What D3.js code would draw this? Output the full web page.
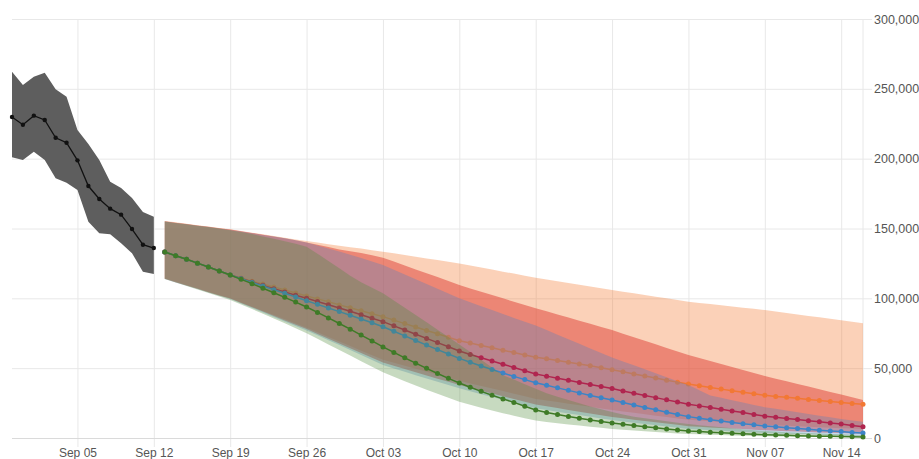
<!DOCTYPE html>
<html>
<head>
<meta charset="utf-8">
<script src="https://cdn.jsdelivr.net/npm/d3@7"></script>
<style>
  body { margin: 0; background: #fff; }
  svg { display: block; font-family: "Liberation Sans", Arial, sans-serif; }
</style>
</head>
<body>
<script>
// all values in thousands of cases
var histStart = "2020-08-30";
var histMean  = [229.8, 224.3, 230.8, 227.7, 215, 211.4, 198.8, 180.4, 171.1, 164.2, 159.9, 149.6, 138.4, 136];
var histUpper = [262.3, 252.8, 258.7, 261.6, 249.7, 244.4, 220.5, 210.5, 199, 183.5, 179, 171.9, 161.8, 158.5];
var histLower = [201, 199, 205, 199, 185.9, 182.8, 177.6, 154.9, 146.6, 145.9, 139.4, 132.3, 119.1, 117.5];

var fcStart = "2020-09-13";

var orangeMean = [133.2, 130.5, 128, 125.2, 122.4, 119.6, 116.7, 114.5, 112.3, 110.2, 108.1, 105.9, 103.8, 101.7,
  99.6, 97.5, 95.3, 93.2, 91.1, 89, 86.9, 84.4, 81.9, 79.5, 77, 74.6, 72.1, 69.7, 68, 66.3, 64.6, 62.9, 61.2, 59.5, 57.8,
  56.7, 55.5, 54.3, 53, 51.7, 50.3, 48.9, 47.4, 45.9, 44.4, 42.9, 41.4, 40, 38.6, 37.4, 36.2, 35, 33.8, 32.7, 31.6, 30.6,
  29.8, 29.1, 28.4, 27.6, 26.9, 26.1, 25.4, 24.7, 24.1];
var orangeUpper = [155.4, 154.4, 153.4, 152.4, 151.4, 150.4, 149.4, 148.2, 147, 145.8, 144.6, 143.4, 142.2, 141,
  139.9, 138.8, 137.7, 136.6, 135.6, 134.5, 133.4, 132.2, 131, 129.8, 128.6, 127.4, 126.2, 125, 123.5, 122.1, 120.6, 119.1,
  117.7, 116.2, 114.8, 113.5, 112.3, 111, 109.8, 108.5, 107.3, 106, 104.8, 103.6, 102.4, 101.2, 100, 98.8, 97.6,
  96.7, 95.9, 95, 94.2, 93.3, 92.5, 91.6, 90.6, 89.5, 88.5, 87.4, 86.4, 85.3, 84.3, 83.2, 82.1];
var orangeLower = [114.2, 111.8, 109.4, 107, 104.6, 102.2, 100, 97, 94, 91, 88, 85, 82, 79,
  75.7, 72.4, 69.1, 65.8, 62.5, 59.2, 56, 53.8, 51.7, 49.5, 47.4, 45.2, 43.1, 41, 39.1, 37.3, 35.4, 33.6, 31.7, 29.9, 28,
  26.9, 25.7, 24.6, 23.4, 22.3, 21.1, 20, 19, 18, 17, 16, 15, 14, 13, 12.5, 12, 11.5, 11, 10.5, 10, 9.5,
  9.1, 8.8, 8.4, 8.1, 7.7, 7.4, 7, 6.8, 6.5];

var redMean = [133.2, 130.5, 128, 125.2, 122.4, 119.6, 116.7, 114.2, 111.7, 109.3, 106.9, 104.5, 102.2, 100,
  97.7, 95.4, 93.1, 90.7, 88.2, 85.8, 83.3, 80.3, 77.3, 74.3, 71.3, 68.3, 65.3, 62.3, 59.8, 57.4, 55.1, 52.8, 50.5, 48.1, 45.8,
  44.3, 42.8, 41.3, 39.8, 38.3, 36.9, 35.4, 33.7, 32.1, 30.5, 28.9, 27.3, 25.7, 24.1, 23, 21.8, 20.6, 19.4, 18.2, 16.9, 15.6,
  14.8, 14, 13.2, 12.4, 11.6, 10.8, 10, 9, 8.1];
var redUpper = [155.2, 154.2, 153.2, 152.2, 151.2, 150.2, 149.2, 148, 146.8, 145.6, 144.3, 143, 141.6, 140,
  138.4, 136.7, 135, 133.8, 132.4, 130.8, 129.1, 126.3, 123.5, 120.7, 118, 115.2, 112.4, 109.5,
  107.1, 104.7, 102.4, 100, 97.6, 95.2, 92.9, 90.7, 88.4, 86.2, 84, 81.8, 79.5, 77.3,
  74.7, 72.2, 69.6, 67.1, 64.5, 62, 59.4, 57.3, 55.1, 53, 50.9, 48.7, 46.6, 44.4,
  42.5, 40.6, 38.7, 36.8, 34.9, 33, 31.1, 29.1, 27.2];
var redLower = [114, 111.6, 109.2, 106.8, 104.4, 102, 99.8, 96.7, 93.6, 90.5, 87.3, 84.2, 81.1, 78,
  74.5, 71, 67.6, 64.2, 60.8, 57.4, 54, 51.7, 49.4, 47.1, 44.8, 42.5, 40.2, 38, 35.9, 33.9, 31.9, 29.9, 27.9, 25.9, 24,
  22.7, 21.4, 20.1, 18.8, 17.5, 16.2, 15, 14.1, 13.1, 12.2, 11.2, 10.3, 9.4, 8.5, 8.1, 7.6, 7.2, 6.8, 6.4, 5.9, 5.5,
  5.2, 4.9, 4.6, 4.3, 4, 3.8, 3.5, 3.3, 3];

var blueMean = [133.2, 130.5, 128, 125.2, 122.4, 119.6, 116.7, 114, 111.4, 108.8, 106.2, 103.6, 101, 98.3,
  95.7, 93.1, 90.5, 87.9, 85.2, 82.5, 79.7, 76.4, 73.1, 69.8, 66.5, 63.3, 60.1, 57, 54.2, 51.5, 49, 46.5, 44.1, 41.8, 39.6,
  37.7, 35.9, 34.1, 32.3, 30.5, 28.8, 27.2, 25.4, 23.6, 21.9, 20.2, 18.5, 16.9, 15.3, 14.2, 13.1, 12.1, 11.1, 10.2, 9.4, 8.6,
  8, 7.4, 6.8, 6.2, 5.6, 5.1, 4.6, 4, 3.5];
var blueUpper = [155, 154, 153, 152, 151, 150, 149, 147.8, 146.6, 145.4, 144.2, 143, 141.6, 140,
  137.8, 135.6, 133.5, 131.2, 128.8, 126.4, 123.9, 120.5, 117.1, 113.7, 110.3, 106.9, 103.5, 100,
  97.2, 94.4, 91.6, 88.8, 86, 83.2, 80.5, 77.3, 74, 70.7, 67.4, 64.1, 60.8, 57.6,
  54.8, 52, 49.2, 46.3, 43.5, 40.7, 38, 34.2, 30.5, 28.8, 27.1, 25.4, 23.7, 22,
  20.9, 19.7, 18.5, 17.2, 16, 14.8, 13.6, 12.6, 11.7];
var blueLower = [113.8, 111.4, 109, 106.6, 104.2, 101.8, 99.5, 96.3, 93.1, 89.9, 86.7, 83.5, 80.2, 77,
  73.5, 70, 66.5, 63, 59.5, 55.9, 52.3, 49.8, 47.4, 45, 42.6, 40.2, 37.9, 35.6, 33.5, 31.4, 29.3, 27.3, 25.3, 23.3, 21.3,
  20, 18.8, 17.6, 16.4, 15.2, 14, 12.9, 11.9, 11, 10.1, 9.2, 8.2, 7.3, 6.4, 6, 5.6, 5.2, 4.7, 4.3, 3.9, 3.5,
  3.3, 3.1, 2.8, 2.6, 2.4, 2.1, 1.9, 1.7, 1.5];

var greenMean = [133.2, 130.5, 128, 125.2, 122.4, 119.6, 116.7, 113.6, 110.5, 107.2, 104, 100.7, 97.3, 93.8,
  89.9, 86, 82, 77.9, 73.7, 69.5, 65.2, 61.3, 57.4, 53.6, 49.9, 46.2, 42.7, 39.4, 36.3, 33.4, 30.6, 28, 25.5, 22.7, 20,
  18.3, 16.8, 15.4, 14.1, 12.9, 11.8, 10.7, 9.8, 8.9, 8.1, 7.3, 6.5, 5.8, 5, 4.6, 4.2, 3.8, 3.4, 3, 2.6, 2.3,
  2.1, 1.9, 1.7, 1.5, 1.3, 1.2, 1.1, 0.9, 0.8];
var greenUpper = [155, 154, 153, 152, 151, 150, 148.8, 147.5, 146, 144.3, 142.6, 140.8, 139, 137,
  132, 126.8, 121.5, 116.2, 111.6, 107.5, 103.6, 98.4, 93.2, 88, 82.8, 77.5, 72.3, 67,
  61.5, 56, 50.5, 45, 41.8, 38.5, 35.3, 32, 29.6, 27.2, 24.8, 22.5, 20.5, 18.6,
  16.8, 15.3, 14.1, 13, 12, 11, 10, 9.2, 8.4, 7.7, 7, 6.3, 5.6, 5,
  4.6, 4.2, 3.8, 3.5, 3.2, 2.9, 2.6, 2.3, 2];
var greenLower = [113.8, 111.3, 108.8, 106.3, 103.8, 101.3, 98.8, 95.6, 92.3, 89, 85.6, 82.1, 78.6, 75,
  71, 67, 63, 59, 55, 51, 47, 43.8, 40.6, 37.6, 34.6, 31.7, 28.8, 26, 23.8, 21.7, 19.7, 17.8, 16, 14.2, 12.5,
  11.5, 10.6, 9.7, 8.9, 8.1, 7.3, 6.5, 5.9, 5.3, 4.8, 4.3, 3.8, 3.3, 2.8, 2.6, 2.3, 2.1, 1.8, 1.6, 1.4, 1.2,
  1.1, 1, 0.9, 0.8, 0.8, 0.7, 0.6, 0.6, 0.5];

var xTicks = ["2020-09-05", "2020-09-12", "2020-09-19", "2020-09-26", "2020-10-03", "2020-10-10", "2020-10-17",
  "2020-10-24", "2020-10-31", "2020-11-07", "2020-11-14"];
var yTicks = [0, 50, 100, 150, 200, 250, 300];

var parse = d3.timeParse("%Y-%m-%d");

function rows(start, mean, up, lo) {
  var s = parse(start);
  return mean.map(function(d, i) {
    return { date: d3.timeDay.offset(s, i), v: d, hi: up[i], lo: lo[i] };
  });
}

var hist = rows(histStart, histMean, histUpper, histLower);
var series = [
  { rows: rows(fcStart, orangeMean, orangeUpper, orangeLower), line: "#f27834", band: "rgba(244,122,51,0.35)" },
  { rows: rows(fcStart, redMean, redUpper, redLower),          line: "#b0254f", band: "rgba(222,60,50,0.5)" },
  { rows: rows(fcStart, blueMean, blueUpper, blueLower),       line: "#3d84c6", band: "rgba(70,130,200,0.3)" },
  { rows: rows(fcStart, greenMean, greenUpper, greenLower),    line: "#3f7b27", band: "rgba(80,140,60,0.32)" }
];

var W = 919, H = 459;
var x = d3.scaleTime().domain([parse("2020-08-30"), parse("2020-11-16")]).range([12, 863]);
var y = d3.scaleLinear().domain([0, 300]).range([438, 19]);

var svg = d3.select("body").append("svg").attr("width", W).attr("height", H);

// vertical grid + x labels
var gx = svg.append("g")
    .attr("transform", "translate(0,447)")
    .call(d3.axisBottom(x).tickValues(xTicks.map(parse)).tickFormat(d3.timeFormat("%b %d"))
      .tickSizeInner(-(447 - 19)).tickSizeOuter(0).tickPadding(1));
gx.select(".domain").remove();
gx.selectAll("line").attr("stroke", "#e8e8e8");
gx.selectAll("text").attr("fill", "#555").attr("font-size", 12);

// horizontal grid + y labels on the right
var gy = svg.append("g")
    .attr("transform", "translate(12,0)")
    .call(d3.axisRight(y).tickValues(yTicks).tickFormat(function(d){ return d3.format(",")(d * 1000); })
      .tickSizeInner(860).tickSizeOuter(0).tickPadding(2));
gy.select(".domain").remove();
gy.selectAll("line").attr("stroke", function(d){ return d === 0 ? "#dadada" : "#e8e8e8"; });
gy.selectAll("text").attr("fill", "#555").attr("font-size", 12.5);

// right edge line
svg.append("line")
    .attr("x1", 863).attr("x2", 863).attr("y1", y(300)).attr("y2", y(0))
    .attr("stroke", "#e8e8e8");

var area = d3.area().x(function(d){ return x(d.date); }).y0(function(d){ return y(d.lo); }).y1(function(d){ return y(d.hi); });
var line = d3.line().x(function(d){ return x(d.date); }).y(function(d){ return y(d.v); });

// history
svg.append("path").datum(hist).attr("d", area).attr("fill", "#5e5e5e");
svg.append("path").datum(hist).attr("d", line).attr("fill", "none").attr("stroke", "#111").attr("stroke-width", 1.3);
svg.selectAll("circle.hist").data(hist).enter().append("circle")
    .attr("class", "hist")
    .attr("cx", function(d){ return x(d.date); })
    .attr("cy", function(d){ return y(d.v); })
    .attr("r", 2.2).attr("fill", "#111");

function drawBand(s) {
  svg.append("path").datum(s.rows).attr("d", area).attr("fill", s.band);
}
function drawLine(s, k) {
  svg.append("path").datum(s.rows).attr("d", line).attr("fill", "none").attr("stroke", s.line).attr("stroke-width", 1.5);
  svg.selectAll("circle.s" + k).data(s.rows).enter().append("circle")
      .attr("class", "s" + k)
      .attr("cx", function(d){ return x(d.date); })
      .attr("cy", function(d){ return y(d.v); })
      .attr("r", 2.5).attr("fill", s.line);
}

// drawing order gives the overlapping look of the original
drawBand(series[0]);
drawBand(series[1]);
drawLine(series[0], 0);
drawBand(series[2]);
drawLine(series[1], 1);
drawLine(series[2], 2);
drawBand(series[3]);
drawLine(series[3], 3);
</script>
</body>
</html>
